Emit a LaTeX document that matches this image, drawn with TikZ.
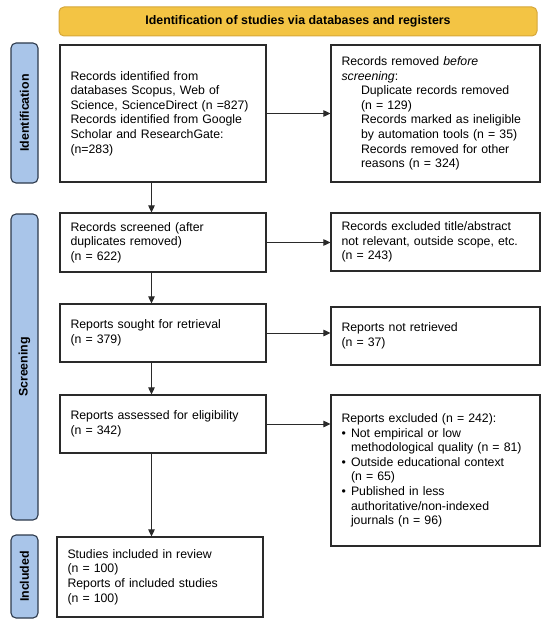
\documentclass[tikz,border=0pt]{standalone}
\usepackage{fontspec}
\setmainfont{Liberation Sans}
\usetikzlibrary{arrows.meta}
\definecolor{bannerfill}{HTML}{F3C444}
\definecolor{bannerdraw}{HTML}{D6A73A}
\definecolor{barfill}{HTML}{A9C5E9}
\definecolor{bardraw}{HTML}{2E3A4C}
\definecolor{boxdraw}{HTML}{2A2A2A}
\tikzset{
  base/.style={font=\fontsize{12.3}{14.6}\selectfont},
  flowbox/.style={base, draw=boxdraw, line width=1.1pt, rectangle, align=left,
    inner xsep=10.5pt, inner ysep=0pt, minimum width=#1, text width=#1-21pt},
  banner/.style={draw=bannerdraw, fill=bannerfill, line width=1pt, rounded corners=5pt,
    font=\fontsize{12.4}{14.6}\selectfont\bfseries, align=center},
  sidebar/.style={draw=bardraw, fill=barfill, line width=1.1pt, rounded corners=5pt,
    font=\fontsize{12.4}{14.6}\selectfont\bfseries, rotate=90, inner sep=0pt},
  arr/.style={draw=boxdraw, line width=0.9pt, -{Triangle[length=7pt,width=6.5pt]}}
}
\begin{document}
\begin{tikzpicture}[x=1pt,y=-1pt]
\useasboundingbox (0,0) rectangle (550,626);

\node[banner, minimum width=478pt, minimum height=29pt] (ban) at (298,21.5)
  {Identification of studies via databases and registers};

\node[sidebar, minimum width=140pt, minimum height=27pt] (idbar) at (24.5,113) {Identification};
\node[sidebar, minimum width=306pt, minimum height=27pt] (scbar) at (24.5,367) {Screening};
\node[sidebar, minimum width=83pt, minimum height=27pt] (inbar) at (24.5,576.5) {Included};

\node[flowbox=206pt, minimum height=137pt] (b1) at (163,113.5)
  {Records identified from\\
   databases Scopus, Web of\\
   Science, ScienceDirect (n =827)\\
   Records identified from Google\\
   Scholar and ResearchGate:\\
   (n=283)};

\node[flowbox=209pt, minimum height=137pt] (b2) at (435.5,113.5)
  {Records removed \textit{before}\\
   \textit{screening}:\\
   \hspace*{19.5pt}Duplicate records removed\\
   \hspace*{19.5pt}(n = 129)\\
   \hspace*{19.5pt}Records marked as ineligible\\
   \hspace*{19.5pt}by automation tools (n = 35)\\
   \hspace*{19.5pt}Records removed for other\\
   \hspace*{19.5pt}reasons (n = 324)};

\node[flowbox=206pt, minimum height=59pt] (b3) at (163,242.5)
  {Records screened (after\\
   duplicates removed)\\
   (n = 622)};

\node[flowbox=209pt, minimum height=58pt] (b4) at (435.5,242)
  {Records excluded title/abstract\\
   not relevant, outside scope, etc.\\
   (n = 243)};

\node[flowbox=206pt, minimum height=58pt] (b5) at (163,333)
  {Reports sought for retrieval\\
   (n = 379)};

\node[flowbox=209pt, minimum height=58pt] (b6) at (435.5,336)
  {Reports not retrieved\\
   (n = 37)};

\node[flowbox=206pt, minimum height=58pt] (b7) at (163,424)
  {Reports assessed for eligibility\\
   (n = 342)};

\node[flowbox=209pt, minimum height=151pt] (b8) at (435.5,470.5)
  {Reports excluded (n = 242):\\
   \makebox[9.5pt][l]{•}Not empirical or low\\
   \hspace*{9.5pt}methodological quality (n = 81)\\
   \makebox[9.5pt][l]{•}Outside educational context\\
   \hspace*{9.5pt}(n = 65)\\
   \makebox[9.5pt][l]{•}Published in less\\
   \hspace*{9.5pt}authoritative/non-indexed\\
   \hspace*{9.5pt}journals (n = 96)};

\node[flowbox=206pt, minimum height=80pt] (b9) at (160,577)
  {Studies included in review\\
   (n = 100)\\
   Reports of included studies\\
   (n = 100)};

\draw[arr] ([xshift=-11.5pt]b1.south) -- ([xshift=-11.5pt]b3.north);
\draw[arr] ([xshift=-11.5pt]b3.south) -- ([xshift=-11.5pt]b5.north);
\draw[arr] ([xshift=-11.5pt]b5.south) -- ([xshift=-11.5pt]b7.north);
\draw[arr] ([xshift=-11.5pt]b7.south) -- ([xshift=-8.5pt]b9.north);

\draw[arr] (b1.east) -- (b1.east -| b2.west);
\draw[arr] (b3.east) -- (b3.east -| b4.west);
\draw[arr] (b5.east) -- (b5.east -| b6.west);
\draw[arr] (b7.east) -- (b7.east -| b8.west);
\end{tikzpicture}
\end{document}
